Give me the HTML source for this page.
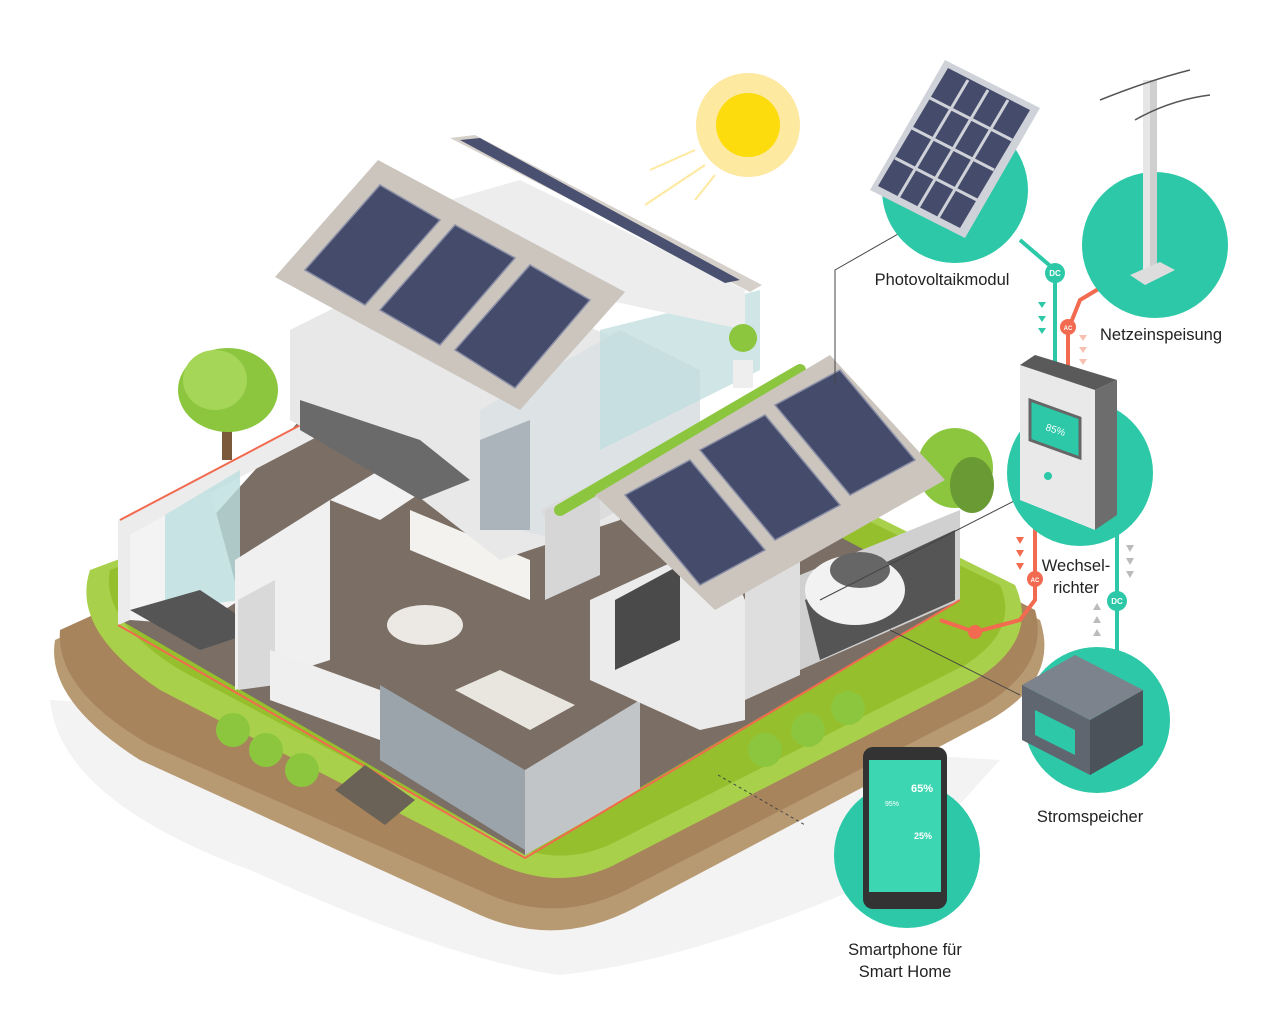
<!DOCTYPE html>
<html><head><meta charset="utf-8"><style>
html,body{margin:0;padding:0;background:#fff}
svg{display:block}
text{font-family:"Liberation Sans",sans-serif}
</style></head><body>
<svg width="1280" height="1024" viewBox="0 0 1280 1024" xmlns="http://www.w3.org/2000/svg">
<!-- shadow -->
<path d="M50 700 Q60 800 250 870 Q450 960 560 975 Q700 960 900 870 L1000 760 Z" fill="#f3f3f3"/>
<!-- island brown -->
<path d="M55 640 Q45 700 140 760 L480 915 Q560 950 640 905 L990 720 Q1060 680 1040 620 L600 390 Z" fill="#b89a72"/>
<path d="M60 630 Q55 690 150 745 L490 895 Q560 925 630 888 L985 705 Q1050 665 1035 610 L600 385 Z" fill="#a8845c"/>
<!-- green top -->
<path d="M90 570 Q70 630 160 690 L490 860 Q560 895 620 862 L975 680 Q1040 640 1015 585 L600 380 Z" fill="#a8d04a"/>
<path d="M110 570 Q100 620 180 670 L500 840 Q560 870 615 842 L965 665 Q1020 630 1000 585 L600 390 Z" fill="#95bf2c"/>
<!-- tree left -->
<rect x="222" y="410" width="10" height="50" fill="#7a5a3a"/>
<ellipse cx="228" cy="390" rx="50" ry="42" fill="#8cc63f"/>
<ellipse cx="215" cy="380" rx="32" ry="30" fill="#a6d657"/>
<!-- tree right -->
<ellipse cx="955" cy="468" rx="38" ry="40" fill="#8cc63f"/>
<ellipse cx="972" cy="485" rx="22" ry="28" fill="#6a9a34"/>
<!-- house lower floor (dark) -->
<polygon points="120,620 525,855 960,600 560,390 300,420" fill="#7a6e65"/>
<!-- lower walls white -->
<polygon points="118,520 310,420 330,430 130,535 130,620 118,625" fill="#ececec"/>
<polygon points="130,535 210,490 240,600 200,625 130,620" fill="#f3f3f3"/>
<polygon points="165,515 240,470 240,600 165,610" fill="#bcdfe0" opacity=".8"/>
<polygon points="130,610 200,590 260,630 200,650" fill="#555"/>
<polygon points="235,560 330,500 330,660 235,690" fill="#f0f0f0"/>
<polygon points="238,600 275,580 275,685 238,690" fill="#d9d9d9"/>
<polygon points="270,650 380,690 380,740 270,700" fill="#efefef"/>
<polygon points="380,685 525,770 525,850 380,760" fill="#9aa4aa"/>
<polygon points="525,770 640,700 640,790 525,855" fill="#c9ced1" opacity=".9"/>
<polygon points="330,500 430,440 470,460 380,520" fill="#f2f2f2"/>
<polygon points="410,510 530,560 530,600 410,550" fill="#f4f2ee"/>
<ellipse cx="425" cy="625" rx="38" ry="20" fill="#ece9e5"/>
<polygon points="455,690 530,730 575,705 500,670" fill="#e9e5df"/>
<polygon points="590,600 720,540 745,600 745,720 700,730 590,680" fill="#ebebeb"/>
<polygon points="615,600 680,565 680,640 615,670" fill="#4a4a4a"/>
<polygon points="745,590 800,555 800,675 745,700" fill="#dedede"/>
<polygon points="800,575 960,510 960,600 800,670" fill="#d0d0d0"/>
<polygon points="805,600 955,530 955,600 820,660" fill="#555"/>
<!-- car -->
<ellipse cx="855" cy="590" rx="50" ry="35" fill="#f2f2f2"/>
<ellipse cx="860" cy="570" rx="30" ry="18" fill="#666"/>
<!-- red edge lines -->
<polyline points="118,625 525,858 960,600" fill="none" stroke="#f26a4f" stroke-width="2"/>
<polyline points="120,520 310,420" fill="none" stroke="#f26a4f" stroke-width="2"/>
<!-- upper floor block -->
<polygon points="290,330 430,260 620,340 620,520 500,560 410,490 290,420" fill="#e8e8e8"/>
<polygon points="300,400 420,440 470,480 420,500 300,430" fill="#6a6a6a"/>
<polygon points="480,410 620,330 700,370 700,470 560,540 480,520" fill="#dde2e4"/>
<polygon points="600,330 760,290 760,370 600,450" fill="#c3dfe0" opacity=".8"/>
<polygon points="480,440 530,420 530,530 480,530" fill="#aab4ba"/>
<polygon points="450,200 520,180 745,290 745,330 560,290 480,250" fill="#ededed"/>
<polygon points="540,510 600,480 700,430 800,370 830,380 640,500 560,540" fill="#dcdcdc"/>
<polygon points="545,510 600,490 600,575 545,600" fill="#d6d6d6"/>
<!-- hedge -->
<polyline points="560,510 800,370" stroke="#8cc63f" stroke-width="12" fill="none" stroke-linecap="round"/>
<!-- plant pot -->
<rect x="733" y="360" width="20" height="28" fill="#eee"/>
<circle cx="743" cy="338" r="14" fill="#8cc63f"/>
<!-- upper roof strip -->
<polygon points="450,138 475,135 762,285 750,292" fill="#d6d0ca"/>
<polygon points="460,140 480,138 740,280 725,283" fill="#4a5070"/>
<!-- left roof -->
<polygon points="275,277 378,160 625,292 520,410" fill="#cbc5be"/>
<g fill="#454b6b" stroke="#8a8fa6" stroke-width="1.5">
<polygon points="305,270 380,185 440,220 365,305"/>
<polygon points="380,310 455,225 515,258 440,345"/>
<polygon points="455,350 530,265 590,300 515,388"/>
</g>
<!-- right roof -->
<polygon points="595,495 830,355 945,480 715,610" fill="#cbc5be"/>
<g fill="#454b6b" stroke="#8a8fa6" stroke-width="1.5">
<polygon points="625,495 690,460 765,550 700,585"/>
<polygon points="700,450 765,415 840,505 775,540"/>
<polygon points="775,405 840,370 915,460 850,495"/>
</g>
<!-- bench, bushes -->
<polygon points="335,790 365,765 415,800 385,825" fill="#6a6256"/>
<circle cx="233" cy="730" r="17" fill="#8cc63f"/>
<circle cx="266" cy="750" r="17" fill="#8cc63f"/>
<circle cx="302" cy="770" r="17" fill="#8cc63f"/>
<circle cx="765" cy="750" r="17" fill="#8cc63f"/>
<circle cx="808" cy="730" r="17" fill="#8cc63f"/>
<circle cx="848" cy="708" r="17" fill="#8cc63f"/>
<!-- sun -->
<circle cx="748" cy="125" r="52" fill="#fde9a0"/>
<circle cx="748" cy="125" r="32" fill="#fcdc0c"/>
<g stroke="#fde9a0" stroke-width="2"><line x1="695" y1="150" x2="650" y2="170"/><line x1="705" y1="165" x2="645" y2="205"/><line x1="715" y1="175" x2="695" y2="200"/></g>
<!-- connector thin lines -->
<g stroke="#444" stroke-width="1" fill="none">
<polyline points="905,230 835,270 835,385"/>
<line x1="1020" y1="498" x2="820" y2="600"/>
<line x1="1020" y1="695" x2="890" y2="630"/>
<line x1="718" y1="775" x2="805" y2="825" stroke-dasharray="3,3"/>
</g>
<!-- teal lines -->
<g stroke="#2cc8a8" stroke-width="4" fill="none">
<polyline points="1020,240 1055,270 1055,380"/>
<line x1="1117" y1="530" x2="1117" y2="660"/>
</g>
<g stroke="#f26a4f" stroke-width="4" fill="none">
<polyline points="1105,285 1080,300 1068,330 1068,370"/>
<polyline points="1035,525 1035,600 1020,620 975,632 940,620"/>
</g>
<!-- circles -->
<circle cx="955" cy="190" r="73" fill="#2cc8a8"/>
<circle cx="1155" cy="245" r="73" fill="#2cc8a8"/>
<circle cx="1080" cy="473" r="73" fill="#2cc8a8"/>
<circle cx="1097" cy="720" r="73" fill="#2cc8a8"/>
<circle cx="907" cy="855" r="73" fill="#2cc8a8"/>
<!-- PV module -->
<polygon points="870,190 945,60 1040,108 965,238" fill="#cfd2d8"/>
<polygon points="878,186 948,68 1030,110 960,228" fill="#454b6b"/>
<g stroke="#cfd2d8" stroke-width="3"><line x1="895" y1="158" x2="977" y2="200"/><line x1="912" y1="128" x2="994" y2="170"/><line x1="930" y1="98" x2="1012" y2="140"/><line x1="968" y1="80" x2="898" y2="198"/><line x1="988" y1="90" x2="918" y2="208"/><line x1="1008" y1="100" x2="938" y2="218"/></g>
<!-- pole -->
<rect x="1143" y="80" width="14" height="195" fill="#e6e6e6"/>
<rect x="1150" y="80" width="7" height="195" fill="#cfcfcf"/>
<polygon points="1130,275 1160,262 1175,270 1145,285" fill="#ddd"/>
<g stroke="#555" stroke-width="1.5" fill="none"><path d="M1100 100 Q1150 80 1190 70"/><path d="M1135 120 Q1170 100 1210 95"/></g>
<!-- inverter -->
<polygon points="1020,365 1095,390 1095,530 1020,500" fill="#e9e9e9"/>
<polygon points="1095,390 1117,380 1117,515 1095,530" fill="#6d6d6d"/>
<polygon points="1020,365 1035,355 1117,380 1095,390" fill="#5a5a5a"/>
<polygon points="1030,400 1080,418 1080,458 1030,440" fill="#2cc8a8" stroke="#666" stroke-width="3"/>
<text x="1045" y="430" font-size="10" fill="#fff" transform="rotate(18 1045 430)">85%</text>
<circle cx="1048" cy="476" r="4" fill="#2cc8a8"/>
<!-- battery -->
<polygon points="1022,685 1090,720 1090,775 1022,740" fill="#5f6670"/>
<polygon points="1090,720 1143,690 1143,745 1090,775" fill="#4c525a"/>
<polygon points="1022,685 1075,655 1143,690 1090,720" fill="#7c838c"/>
<polygon points="1035,710 1075,730 1075,755 1035,735" fill="#2cc8a8"/>
<!-- phone -->
<rect x="863" y="747" width="84" height="162" rx="10" fill="#333"/>
<rect x="869" y="760" width="72" height="132" fill="#3dd6b2"/>
<text x="911" y="792" font-size="11" font-weight="bold" fill="#fff">65%</text>
<text x="914" y="839" font-size="9" font-weight="bold" fill="#fff">25%</text>
<text x="885" y="806" font-size="7" fill="#fff">95%</text>
<!-- DC/AC badges -->
<g font-size="8" font-weight="bold" fill="#fff" text-anchor="middle">
<circle cx="1055" cy="273" r="10" fill="#2cc8a8"/><text x="1055" y="276">DC</text>
<circle cx="1068" cy="327" r="8" fill="#f26a4f"/><text x="1068" y="330" font-size="6">AC</text>
<circle cx="1035" cy="579" r="8" fill="#f26a4f"/><text x="1035" y="582" font-size="6">AC</text>
<circle cx="1117" cy="601" r="10" fill="#2cc8a8"/><text x="1117" y="604">DC</text>
</g>
<circle cx="975" cy="632" r="7" fill="#f26a4f"/>
<!-- arrows -->
<g fill="#2cc8a8"><polygon points="1038,302 1046,302 1042,308"/><polygon points="1038,316 1046,316 1042,322"/><polygon points="1038,328 1046,328 1042,334"/></g>
<g fill="#f26a4f"><polygon points="1016,537 1024,537 1020,544"/><polygon points="1016,550 1024,550 1020,557"/><polygon points="1016,563 1024,563 1020,570"/></g>
<g fill="#bbb"><polygon points="1126,545 1134,545 1130,552"/><polygon points="1126,558 1134,558 1130,565"/><polygon points="1126,571 1134,571 1130,578"/>
<polygon points="1093,610 1101,610 1097,603"/><polygon points="1093,623 1101,623 1097,616"/><polygon points="1093,636 1101,636 1097,629"/></g>
<g fill="#f8c0b0"><polygon points="1079,335 1087,335 1083,341"/><polygon points="1079,347 1087,347 1083,353"/><polygon points="1079,359 1087,359 1083,365"/></g>
<!-- labels -->
<g font-size="16.5" fill="#222" text-anchor="middle">
<text x="942" y="285">Photovoltaikmodul</text>
<text x="1161" y="340">Netzeinspeisung</text>
<text x="1076" y="571">Wechsel-</text>
<text x="1076" y="593">richter</text>
<text x="1090" y="822">Stromspeicher</text>
<text x="905" y="955">Smartphone für</text>
<text x="905" y="977">Smart Home</text>
</g>
</svg>
</body></html>
